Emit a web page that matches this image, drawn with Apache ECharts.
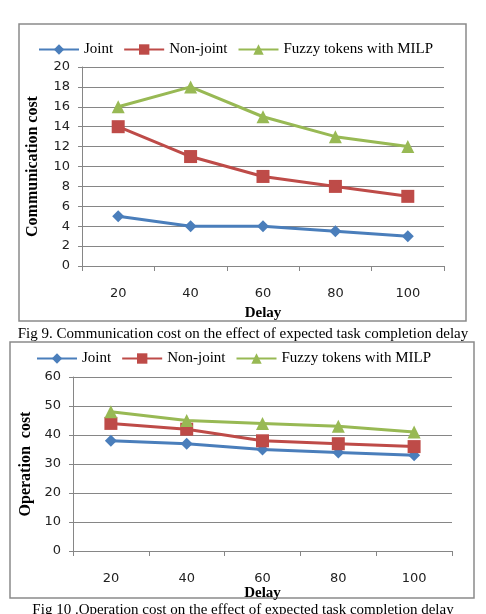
<!DOCTYPE html>
<html>
<head>
<meta charset="utf-8">
<script src="https://cdn.jsdelivr.net/npm/echarts@6/dist/echarts.min.js"></script>
<style>
  html, body { margin: 0; padding: 0; background: #fff; }
  #chart { width: 486px; height: 614px; }
</style>
</head>
<body>
<div id="chart"></div>
<script>
// categories (delay)
const delays = ["20", "40", "60", "80", "100"]
const seriesNames = ["Joint", "Non-joint", "Fuzzy tokens with MILP"]

// Fig 9 - communication cost
const commJoint = [5, 4, 4, 3.5, 3]
const commNonJoint = [14, 11, 9, 8, 7]
const commFuzzy = [16, 18, 15, 13, 12]

// Fig 10 - operation cost
const opJoint = [38, 37, 35, 34, 33]
const opNonJoint = [44, 42, 38, 37, 36]
const opFuzzy = [48, 45, 44, 43, 41]

const caption9 = "Fig 9. Communication cost on the effect of expected task completion delay"
const caption10 = "Fig 10 .Operation cost on the effect of expected task completion delay"

const colors = ["#4A7EBB", "#BE4B48", "#98B954"]
const symbols = ["diamond", "rect", "triangle"]
const symbolSizes = [12, 13, 13]
const serif = "Liberation Serif"
const sans = "DejaVu Sans"

const chart = echarts.init(document.getElementById("chart"))

// build a series for one grid
const makeSeries = (idx, data, gridIdx) => ({
  name: seriesNames[idx],
  type: "line",
  xAxisIndex: gridIdx,
  yAxisIndex: gridIdx,
  data: data,
  symbol: symbols[idx],
  symbolSize: symbolSizes[idx],
  lineStyle: { width: 3, color: colors[idx] },
  itemStyle: { color: colors[idx] },
  animation: false
})

const xAxisBase = (gridIdx, nameGap) => ({
  type: "category",
  gridIndex: gridIdx,
  data: delays,
  boundaryGap: true,
  name: "Delay",
  nameLocation: "middle",
  nameGap: nameGap,
  nameTextStyle: { fontFamily: serif, fontWeight: "bold", fontSize: 15, color: "#000" },
  axisLine: { lineStyle: { color: "#868686", width: 1 } },
  axisTick: { show: true, alignWithLabel: false, length: 5, lineStyle: { color: "#868686" } },
  axisLabel: { fontFamily: sans, fontSize: 13, color: "#222", margin: 21 }
})

const yAxisBase = (gridIdx, max, interval, name, nameGap) => ({
  type: "value",
  gridIndex: gridIdx,
  min: 0,
  max: max,
  interval: interval,
  name: name,
  nameLocation: "middle",
  nameGap: nameGap,
  nameRotate: 90,
  nameTextStyle: { fontFamily: serif, fontWeight: "bold", fontSize: 16, color: "#000" },
  axisLine: { show: true, lineStyle: { color: "#868686", width: 1 } },
  axisTick: { show: true, length: 4, lineStyle: { color: "#868686" } },
  axisLabel: { fontFamily: sans, fontSize: 13, color: "#222", margin: 12 },
  splitLine: { show: true, lineStyle: { color: "#868686", width: 1 } }
})

const legendBase = (left, top) => ({
  left: left,
  top: top,
  itemWidth: 40,
  itemHeight: 13,
  itemGap: 10,
  data: seriesNames,
  textStyle: { fontFamily: serif, fontSize: 15, color: "#000" }
})

const option = {
  backgroundColor: "#fff",
  animation: false,
  title: [
    {
      text: caption9, left: "center", top: 322,
      textStyle: { fontFamily: serif, fontWeight: "normal", fontSize: 15, color: "#000" }
    },
    {
      text: caption10, left: "center", top: 598,
      textStyle: { fontFamily: serif, fontWeight: "normal", fontSize: 15, color: "#000" }
    }
  ],
  graphic: [
    { type: "rect", shape: { x: 19, y: 24, width: 447, height: 297 }, style: { fill: "none", stroke: "#8a8a8a", lineWidth: 1.5 }, z: -1 },
    { type: "rect", shape: { x: 10, y: 342, width: 464, height: 256 }, style: { fill: "none", stroke: "#8a8a8a", lineWidth: 1.5 }, z: -1 }
  ],
  legend: [legendBase(33, 37), legendBase(31, 346)],
  grid: [
    { left: 82, right: 42, top: 67, height: 199 },
    { left: 73, right: 34, top: 377, height: 174 }
  ],
  xAxis: [xAxisBase(0, 40), xAxisBase(1, 30)],
  yAxis: [
    yAxisBase(0, 20, 2, "Communication cost", 41),
    yAxisBase(1, 60, 10, "Operation  cost", 38)
  ],
  series: [
    makeSeries(0, commJoint, 0),
    makeSeries(1, commNonJoint, 0),
    makeSeries(2, commFuzzy, 0),
    makeSeries(0, opJoint, 1),
    makeSeries(1, opNonJoint, 1),
    makeSeries(2, opFuzzy, 1)
  ]
}

chart.setOption(option)
</script>
</body>
</html>
